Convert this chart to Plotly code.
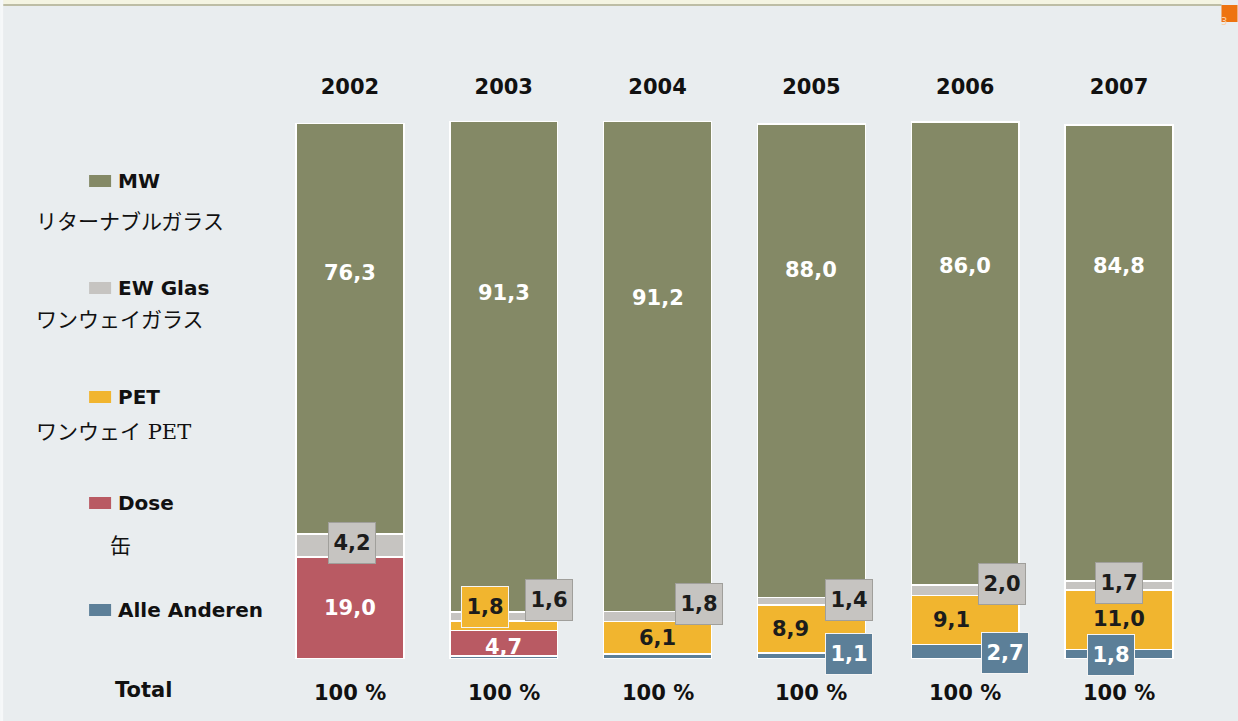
import plotly.graph_objects as go

years = ["2002", "2003", "2004", "2005", "2006", "2007"]
alle_anderen = [0.0, 0.6, 0.9, 1.1, 2.7, 1.8]
dose = [19.0, 4.7, 0.0, 0.0, 0.0, 0.0]
pet = [0.0, 1.8, 6.1, 8.9, 9.1, 11.0]
ew_glas = [4.2, 1.6, 1.8, 1.4, 2.0, 1.7]
mw = [76.3, 91.3, 91.2, 88.0, 86.0, 84.8]
totals = ["100 %"] * 6
legend_names = ["MW", "EW Glas", "PET", "Dose", "Alle Anderen"]
jp_names = ["リターナブルガラス", "ワンウェイガラス", "ワンウェイ PET", "缶", None]

# printed labels (None = no label)
lab_alle = [None, None, None, "1,1", "2,7", "1,8"]
lab_dose = ["19,0", "4,7", None, None, None, None]
lab_pet = [None, "1,8", "6,1", "8,9", "9,1", "11,0"]
lab_ew = ["4,2", "1,6", "1,8", "1,4", "2,0", "1,7"]
lab_mw = ["76,3", "91,3", "91,2", "88,0", "86,0", "84,8"]

colors = {"MW": "#848966", "EW Glas": "#c6c4c1", "PET": "#f1b52f",
          "Dose": "#b95a63", "Alle Anderen": "#5c7f98"}
BG = "#e9edef"
FONT = "DejaVu Sans"
SERIF = "DejaVu Serif, Noto Sans CJK JP"

# style: (boxed, dx px, dy px) per label
st_alle = [None, None, None, (True, 38, 2), (True, 40, -1), (True, -8, -1)]
st_dose = [(False, 0, 0), (False, 0, -4), None, None, None, None]
st_pet = [None, (True, -19, 19), (False, 0, 0), (False, -21, 0), (False, -14, 0), (False, 0, 1)]
st_ew = [(True, 2, 2), (True, 45, 17), (True, 41, 13), (True, 38, 1), (True, 37, 6), (True, 0, 3)]
st_mw = [(False, 0, 56), (False, 0, 74), (False, 0, 68), (False, 0, 91), (False, 0, 87), (False, 0, 87)]

stack = [("Alle Anderen", alle_anderen, lab_alle, st_alle),
         ("Dose", dose, lab_dose, st_dose),
         ("PET", pet, lab_pet, st_pet),
         ("EW Glas", ew_glas, lab_ew, st_ew),
         ("MW", mw, lab_mw, st_mw)]

W, H = 1238, 721
ML, MR, MT, MB = 273, 41.5, 121, 62
PW, PH = W - ML - MR, H - MT - MB


def px(x):
    return (x - ML) / PW


def py(y):
    return (H - MB - y) / PH


fig = go.Figure()
for name, vals, _, _ in stack:
    fig.add_trace(go.Bar(x=list(range(6)), y=vals, name=name, marker_color=colors[name],
                         marker_line_color="white", marker_line_width=1.5,
                         width=0.70, showlegend=False, hoverinfo="skip"))

annotations = []
base = [0.0] * 6
for name, vals, labs, sts in stack:
    for i in range(6):
        if labs[i] is not None:
            boxed, dx, dy = sts[i]
            yc = base[i] + vals[i] / 2
            dark = name in ("PET", "EW Glas")
            txtcol = "#1c1c1c" if dark else "white"
            a = dict(x=i, y=yc, xref="x", yref="y", text=labs[i],
                     showarrow=False, xshift=dx, yshift=dy,
                     font=dict(family=FONT, size=21, color=txtcol, weight="bold"))
            if boxed:
                a.update(bgcolor=colors[name],
                         bordercolor="#f4f4f4" if name != "EW Glas" else "#a09f9b",
                         borderwidth=1, width=44, height=38, align="center", valign="middle")
            annotations.append(a)
        base[i] += vals[i]

# totals row
for i in range(6):
    annotations.append(dict(x=i, y=py(693), xref="x", yref="paper", text=totals[i],
                            showarrow=False, yanchor="middle",
                            font=dict(family=FONT, size=21, color="#111", weight="bold")))
annotations.append(dict(x=px(113), y=py(690), xref="paper", yref="paper", text="Total",
                        showarrow=False, xanchor="left", yanchor="middle",
                        font=dict(family=FONT, size=21, color="#111", weight="bold")))

# legend
leg_y = [181, 288, 397, 503, 610]
jp_y = [222, 320, 432, 546, None]
jp_x = [34, 34, 34, 108, None]
shapes = []
for k, name in enumerate(legend_names):
    shapes.append(dict(type="rect", xref="paper", yref="paper",
                       x0=px(89), x1=px(111), y0=py(leg_y[k] + 6), y1=py(leg_y[k] - 6),
                       fillcolor=colors[name], line_width=0))
    annotations.append(dict(x=px(116), y=py(leg_y[k]), xref="paper", yref="paper", text=name,
                            showarrow=False, xanchor="left", yanchor="middle",
                            font=dict(family=FONT, size=20, color="#111", weight="bold")))
    if jp_names[k] is not None:
        annotations.append(dict(x=px(jp_x[k]), y=py(jp_y[k]), xref="paper", yref="paper",
                                text=jp_names[k], showarrow=False, xanchor="left",
                                yanchor="middle",
                                font=dict(family=SERIF, size=21, color="#111")))

# top rule and page marker
shapes.append(dict(type="rect", xref="paper", yref="paper", x0=px(3), x1=px(1222),
                   y0=py(6), y1=py(0), fillcolor="#f4f4e2", line_width=0))
shapes.append(dict(type="line", xref="paper", yref="paper", x0=px(3), x1=px(1222),
                   y0=py(5), y1=py(5), line=dict(color="#bdbda5", width=2)))
shapes.append(dict(type="rect", xref="paper", yref="paper", x0=px(1222), x1=px(1238),
                   y0=py(22), y1=py(5), fillcolor="#ee7310", line_width=0))
shapes.append(dict(type="rect", xref="paper", yref="paper", x0=px(0), x1=px(3),
                   y0=py(721), y1=py(0), fillcolor="#f6f8f9", line_width=0))
annotations.append(dict(x=px(1230), y=py(13.5), xref="paper", yref="paper", text="3",
                        showarrow=False, font=dict(family=FONT, size=10, color="#fbd0a8")))

fig.update_layout(
    barmode="stack", width=W, height=H,
    margin=dict(l=ML, r=MR, t=MT, b=MB),
    paper_bgcolor=BG, plot_bgcolor=BG,
    annotations=annotations, shapes=shapes,
)
fig.update_xaxes(type="linear", side="top", showgrid=False, zeroline=False, showline=False,
                 ticks="", ticklabelstandoff=22, range=[-0.5, 5.5],
                 tickmode="array", tickvals=list(range(6)), ticktext=years,
                 tickfont=dict(family=FONT, size=21, color="#111", weight="bold"))
fig.update_yaxes(range=[0, 100], visible=False, fixedrange=True)
fig.write_html("out.html")
